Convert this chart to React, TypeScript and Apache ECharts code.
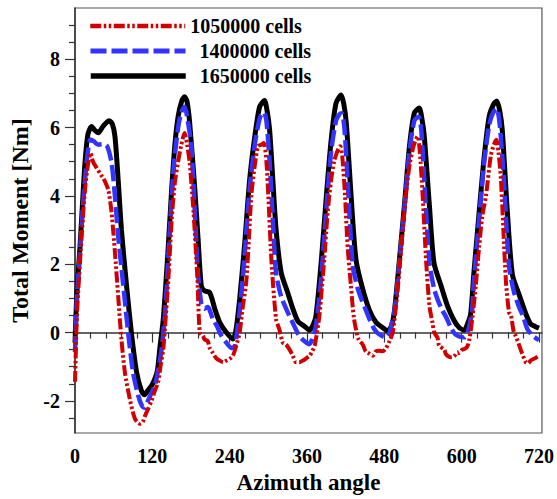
import React, { useEffect, useRef } from "react";
import * as echarts from "echarts";

const seriesNames = ["1050000 cells", "1400000 cells", "1650000 cells"];
const xTicks = [0, 120, 240, 360, 480, 600, 720];
const yTicks = [-2, 0, 2, 4, 6, 8];

const cells1050000: [number, number][] = [
  [0, -1.44], [3, 0.5], [7.7, 2.05], [12, 3.3], [15.5, 4.18], [20, 4.9], [24.3, 5.25], [28, 5.0], [33.6, 4.82],
  [40, 4.62], [44, 4.52], [51.6, 4.18], [56.8, 3.5], [62, 2.34], [67, 1.07], [72, -0.19], [77.4, -1.16],
  [85, -1.94], [93, -2.52], [100.6, -2.67], [105, -2.62], [108.4, -2.45], [113, -2.25], [118.7, -2.0],
  [124, -1.7], [129, -1.45], [133, -0.95], [137, -0.48], [141, 0.5], [145, 1.6], [150, 3.3], [155, 4.4],
  [160, 5.0], [165, 5.5], [170, 5.84], [174, 5.5], [178, 4.96], [184, 3.5], [190, 1.56], [193.6, 0.0],
  [198.6, -0.1], [201, -0.2], [206, -0.25], [209, -0.45], [214, -0.6], [219, -0.75], [224.5, -0.82],
  [230, -0.87], [235, -0.82], [240, -0.77], [245, -0.68], [250, -0.4], [255.5, 0.0], [260, 0.7],
  [265.8, 1.5], [270, 2.8], [273.6, 4.0], [279, 4.9], [284, 5.45], [289, 5.5], [293, 5.55], [297, 5.0],
  [300, 4.0], [305, 2.05], [312, 0.39], [317, 0.1], [322.5, -0.3], [327.5, -0.35], [333, -0.5],
  [338, -0.68], [343, -0.87], [348, -0.87], [353.6, -0.82], [359, -0.75], [364, -0.68], [368, -0.55],
  [372, -0.38], [379, 0.45], [383, 1.3], [387, 2.2], [392, 3.5], [397, 4.4], [402, 5.0], [407, 5.3],
  [411.5, 5.45], [415, 5.1], [419, 4.0], [423, 2.53], [428, 1.4], [433, 0.4], [440, -0.2], [446.5, -0.35],
  [451, -0.55], [457, -0.62], [462, -0.68], [467, -0.55], [472, -0.53], [477, -0.55], [482, -0.48],
  [488, -0.25], [493, 0.0], [497, 0.6], [500, 1.1], [505, 2.2], [510, 3.3], [515, 4.3], [520, 5.0],
  [526, 5.5], [531.6, 5.74], [535, 5.3], [539.5, 4.0], [545, 2.05], [550, 0.78], [554.6, 0.3],
  [557.5, 0.0], [562.5, -0.15], [565, -0.38], [573, -0.5], [575.5, -0.63], [583, -0.72], [588, -0.7],
  [593.5, -0.58], [596, -0.6], [601, -0.5], [605, -0.48], [609, -0.4], [612, -0.2], [617, 0.49],
  [622, 1.4], [627, 2.5], [632, 3.4], [637.7, 4.0], [645, 5.15], [650, 5.5], [654, 5.64], [657, 5.3],
  [661, 4.47], [668.5, 1.56], [673.5, 0.59], [676.5, 0.5], [681, 0.0], [684, -0.1], [691.6, -0.5],
  [699.5, -0.87], [703, -0.9], [707, -0.82], [714, -0.75], [720, -0.68],
];

const cells1400000: [number, number][] = [
  [0, -0.57], [3, 1.0], [7.7, 2.34], [12, 3.6], [15.5, 4.47], [20, 5.3], [24, 5.65], [29, 5.6], [36, 5.5],
  [44, 5.52], [50, 5.45], [56.8, 4.96], [62, 3.99], [67, 2.82], [75, 1.37], [82.5, 0], [90, -1.16],
  [98, -1.84], [104, -2.15], [108, -2.2], [113, -2.0], [118, -1.8], [124, -1.55], [128, -1.2],
  [134, -0.55], [140, 0.6], [146, 2.6], [153, 4.8], [160, 6.0], [165, 6.45], [170, 6.61], [175, 6.2],
  [180.6, 5.45], [186, 3.5], [191, 1.7], [196, 0.85], [201, 0.7], [206, 0.75], [214, 0.39], [220, 0.2],
  [227, -0.09], [235, -0.3], [243, -0.45], [248, -0.4], [252, 0.1], [255.5, 0.6], [263, 2.2], [271, 4.2],
  [279, 5.5], [287, 6.3], [293, 6.45], [297, 6.2], [302, 5.0], [307, 3.31], [312, 1.75], [320, 1.05],
  [330, 0.6], [340, 0.2], [348, -0.1], [356, -0.25], [363, -0.34], [368, -0.2], [374, 0.2], [382, 1.6],
  [390, 3.6], [397.5, 5.3], [405, 6.2], [410, 6.38], [414, 6.42], [418, 6.0], [423, 4.47], [431, 1.95],
  [438.6, 1.3], [445, 0.95], [451.7, 0.64], [458, 0.35], [464.5, 0.1], [472, -0.05], [482, -0.14],
  [488, 0.0], [492, 0.3], [497, 0.8], [503, 2.0], [511, 3.6], [519, 5.3], [526.5, 6.2], [533, 6.32],
  [537, 6.0], [542, 4.47], [550, 2.05], [557, 1.3], [563, 0.95], [570, 0.65], [576, 0.45], [583, 0.15],
  [590, -0.05], [597, -0.12], [604, -0.14], [609, 0.0], [612, 0.2], [616, 0.6], [619, 1.5], [627, 3.3],
  [635, 5.0], [643, 6.1], [649, 6.45], [654.5, 6.55], [659, 6.1], [665.5, 4.47], [673.5, 1.95],
  [681, 1.2], [689, 0.75], [695, 0.5], [702, 0.1], [710, -0.09], [720, -0.22],
];

const cells1650000: [number, number][] = [
  [0, -0.3], [3, 1.2], [7.7, 2.5], [12, 3.9], [15.5, 4.97], [20, 5.8], [25.8, 6.03], [31, 5.92], [36, 5.85],
  [44, 6.05], [53, 6.2], [58, 6.1], [62, 5.74], [67, 4.47], [72, 3.02], [80, 1.37], [88, -0.09],
  [95.5, -1.15], [103, -1.7], [108, -1.82], [113, -1.7], [119, -1.55], [124, -1.35], [128, -1.1],
  [132, -0.4], [137, 0.4], [144, 2.3], [150, 4.2], [155, 5.5], [160, 6.32], [166, 6.8], [170, 6.9],
  [174, 6.75], [178, 6.13], [186, 4.18], [191, 2.73], [196, 1.37], [201, 1.22], [209, 1.17], [217, 0.69],
  [224.5, 0.3], [235, 0.0], [245, -0.19], [250, 0.1], [255.5, 0.98], [263, 2.53], [271, 4.47],
  [279, 5.74], [286.5, 6.61], [294, 6.79], [298, 6.5], [302, 5.93], [307, 4.47], [312, 3.02], [320, 1.75],
  [330, 1.17], [338, 0.7], [346, 0.33], [355, 0.2], [364, 0.07], [370, 0.25], [374, 0.5], [382, 2.05],
  [390, 3.99], [397.5, 5.64], [405, 6.71], [413, 6.95], [417, 6.7], [421, 6.13], [428.5, 3.99],
  [436, 2.14], [446.5, 1.27], [457, 0.65], [467, 0.3], [477, 0.15], [485, 0.05], [491, 0.2], [495.5, 0.6],
  [503, 2.05], [511, 3.7], [519, 5.45], [526.5, 6.42], [534, 6.57], [538, 6.3], [542, 5.74], [550, 3.7],
  [557, 2.05], [568, 1.37], [578, 0.78], [588, 0.36], [596, 0.15], [604, 0.07], [610, 0.3], [614, 0.55],
  [619, 1.75], [627, 3.5], [635, 5.15], [642.6, 6.32], [650, 6.7], [654.5, 6.78], [659, 6.5], [663, 5.93],
  [671, 3.5], [678.7, 1.7], [689, 1.12], [699.5, 0.55], [707, 0.25], [714, 0.18], [720, 0.13],
];

const xMinorTicks = [24, 48, 72, 96, 144, 168, 192, 216, 264, 288, 312, 336, 384, 408, 432, 456, 504, 528, 552, 576, 624, 648, 672, 696];
const yMinorTicks = [-2.5, -1.5, -1, -0.5, 0.5, 1, 1.5, 2.5, 3, 3.5, 4.5, 5, 5.5, 6.5, 7, 7.5, 8.5, 9];

const FONT = "'Liberation Serif', 'Times New Roman', serif";
const AXIS_COLOR = "#333";

export default function App() {
  const ref = useRef<HTMLDivElement>(null);

  useEffect(() => {
    if (!ref.current) return;
    const chart = echarts.init(ref.current, undefined, { renderer: "svg" });
    const labelStyle = { fontFamily: FONT, fontWeight: "bold" as const, fontSize: 20, color: "#000" };
    const legendText = { fontFamily: FONT, fontWeight: "bold" as const, fontSize: 20, color: "#000" };
    const xMin = 0, xMax = 724.6, yMin = -2.94, yMax = 9.5;
    const hiddenSymbol = { opacity: 0, borderWidth: 0 };

    chart.setOption({
      animation: false,
      backgroundColor: "#fff",
      grid: { left: 75, top: 8, width: 468, height: 426, show: true, borderColor: "#555", borderWidth: 1.2, backgroundColor: "transparent" },
      legend: [
        {
          data: [seriesNames[0]], left: 88, top: 16, padding: 0, itemWidth: 95, itemHeight: 20,
          textStyle: legendText, lineStyle: { width: 4.5 }, itemStyle: hiddenSymbol,
        },
        {
          data: [seriesNames[1]], left: 88, top: 41, padding: 0, itemWidth: 95, itemHeight: 20,
          textStyle: { ...legendText, padding: [0, 0, 0, 9] }, lineStyle: { width: 5 }, itemStyle: hiddenSymbol,
        },
        {
          data: [seriesNames[2]], left: 88, top: 66, padding: 0, itemWidth: 95, itemHeight: 20,
          textStyle: { ...legendText, padding: [0, 0, 0, 9] }, lineStyle: { width: 5.5 }, itemStyle: hiddenSymbol,
        },
      ],
      xAxis: [
        {
          type: "value", min: xMin, max: xMax, gridIndex: 0,
          name: "Azimuth angle", nameLocation: "middle", nameGap: 38,
          nameTextStyle: { fontFamily: FONT, fontWeight: "bold", fontSize: 23, color: "#000" },
          axisLine: { show: true, lineStyle: { color: AXIS_COLOR, width: 1.5 } },
          axisTick: { show: true, customValues: xTicks, length: 10, inside: false, lineStyle: { color: AXIS_COLOR, width: 1.2 } },
          axisLabel: { customValues: xTicks, margin: 13, ...labelStyle },
          splitLine: { show: false },
        },
        {
          type: "value", min: xMin, max: xMax, gridIndex: 0, position: "bottom",
          axisLine: { show: false },
          axisTick: { show: true, customValues: xMinorTicks, length: 6, inside: false, lineStyle: { color: AXIS_COLOR, width: 1.2 } },
          axisLabel: { show: false },
          splitLine: { show: false },
        },
      ],
      yAxis: [
        {
          type: "value", min: yMin, max: yMax, gridIndex: 0,
          name: "Total Moment [Nm]", nameLocation: "middle", nameGap: 40,
          nameTextStyle: { fontFamily: FONT, fontWeight: "bold", fontSize: 24, color: "#000" },
          axisLine: { show: true, lineStyle: { color: AXIS_COLOR, width: 1.5 } },
          axisTick: { show: true, customValues: yTicks, length: 10, inside: false, lineStyle: { color: AXIS_COLOR, width: 1.2 } },
          axisLabel: { customValues: yTicks, margin: 15, ...labelStyle },
          splitLine: { show: false },
        },
        {
          type: "value", min: yMin, max: yMax, gridIndex: 0, position: "left",
          axisLine: { show: false },
          axisTick: { show: true, customValues: yMinorTicks, length: 6, inside: false, lineStyle: { color: AXIS_COLOR, width: 1.2 } },
          axisLabel: { show: false },
          splitLine: { show: false },
        },
      ],
      series: [
        {
          name: seriesNames[0], type: "line", data: cells1050000, symbol: "none", smooth: 0.25, z: 4,
          lineStyle: { color: "#d00000", width: 4, type: [11, 2.5, 2.5, 2.5, 2.5, 2.5] },
          itemStyle: { color: "#d00000" },
        },
        {
          name: seriesNames[1], type: "line", data: cells1400000, symbol: "none", smooth: 0.25, z: 3,
          lineStyle: { color: "#3333ff", width: 4.5, type: [16, 5] },
          itemStyle: { color: "#3333ff" },
        },
        {
          name: seriesNames[2], type: "line", data: cells1650000, symbol: "none", smooth: 0.25, z: 2,
          lineStyle: { color: "#000000", width: 5 },
          itemStyle: { color: "#000000" },
        },
      ],
    });
    return () => chart.dispose();
  }, []);

  return <div ref={ref} style={{ width: 557, height: 499, position: "absolute", left: 0, top: 0 }} />;
}
